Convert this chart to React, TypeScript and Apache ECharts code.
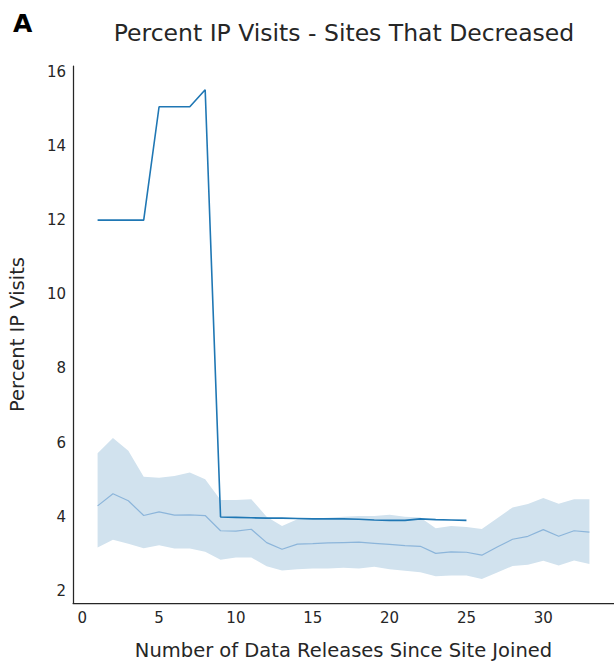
import React, { useEffect, useRef } from "react";
import * as echarts from "echarts";

const titleText = "Percent IP Visits - Sites That Decreased";
const panelLabel = "A";
const xAxisName = "Number of Data Releases Since Site Joined";
const yAxisName = "Percent IP Visits";

const xTicks = [0, 5, 10, 15, 20, 25, 30];
const yTicks = [2, 4, 6, 8, 10, 12, 14, 16];

// Site that decreased (dark line), releases 1..25
const siteX = [1, 2, 3, 4, 5, 6, 7, 8, 9, 10, 11, 12, 13, 14, 15, 16, 17, 18, 19, 20, 21, 22, 23, 24, 25];
const siteY = [12.0, 12.0, 12.0, 12.0, 15.06, 15.06, 15.06, 15.52, 3.99, 3.98, 3.97, 3.96, 3.96, 3.95, 3.94, 3.94, 3.94, 3.93, 3.91, 3.9, 3.9, 3.94, 3.92, 3.91, 3.9];

// Mean and band of all sites, releases 1..33
const bandX = [1, 2, 3, 4, 5, 6, 7, 8, 9, 10, 11, 12, 13, 14, 15, 16, 17, 18, 19, 20, 21, 22, 23, 24, 25, 26, 27, 28, 29, 30, 31, 32, 33];
const meanY = [4.29, 4.62, 4.43, 4.03, 4.13, 4.04, 4.05, 4.03, 3.62, 3.61, 3.66, 3.3, 3.12, 3.26, 3.27, 3.29, 3.3, 3.31, 3.28, 3.25, 3.22, 3.2, 3.01, 3.05, 3.04, 2.96, 3.18, 3.39, 3.47, 3.65, 3.47, 3.62, 3.58];
const upperY = [5.71, 6.12, 5.78, 5.08, 5.05, 5.1, 5.19, 5.01, 4.45, 4.45, 4.47, 4.0, 3.75, 3.93, 3.95, 3.97, 4.0, 4.02, 4.02, 4.05, 4.0, 3.98, 3.69, 3.75, 3.72, 3.67, 3.96, 4.25, 4.34, 4.5, 4.35, 4.47, 4.47];
const lowerY = [3.17, 3.38, 3.27, 3.15, 3.23, 3.14, 3.14, 3.05, 2.84, 2.9, 2.9, 2.66, 2.55, 2.58, 2.6, 2.6, 2.62, 2.6, 2.65, 2.58, 2.54, 2.5, 2.39, 2.41, 2.41, 2.32, 2.49, 2.67, 2.7, 2.81, 2.68, 2.82, 2.72];

const FONT = "DejaVu Sans";
const TXT = "#262626";

export default function App() {
  const ref = useRef<HTMLDivElement>(null);

  useEffect(() => {
    if (!ref.current) return;
    const chart = echarts.init(ref.current, null, { renderer: "svg" });
    const bandData = bandX.map((x, i) => [x, lowerY[i], upperY[i]]);
    chart.setOption({
      animation: false,
      backgroundColor: "#ffffff",
      textStyle: { fontFamily: FONT },
      grid: {
        left: 73,
        top: 66,
        width: 541,
        height: 537,
        containLabel: false,
        outerBoundsMode: "none",
      },
      xAxis: {
        type: "value",
        min: -0.6,
        max: 34.6,
        name: xAxisName,
        nameLocation: "middle",
        nameGap: 37,
        nameTextStyle: { fontFamily: FONT, fontSize: 19.5, color: TXT },
        axisLine: { show: true, onZero: false, lineStyle: { color: TXT, width: 1.25 } },
        axisTick: { show: false },
        splitLine: { show: false },
        axisLabel: {
          customValues: xTicks,
          fontFamily: FONT,
          fontSize: 15,
          color: TXT,
          margin: 7,
        },
      },
      yAxis: {
        type: "value",
        min: 1.67,
        max: 16.16,
        name: yAxisName,
        nameLocation: "middle",
        nameRotate: 90,
        nameGap: 46,
        nameTextStyle: { fontFamily: FONT, fontSize: 19.5, color: TXT },
        axisLine: { show: true, onZero: false, lineStyle: { color: TXT, width: 1.25 } },
        axisTick: { show: false },
        splitLine: { show: false },
        axisLabel: {
          customValues: yTicks,
          fontFamily: FONT,
          fontSize: 15,
          color: TXT,
          margin: 7,
        },
      },
      graphic: [
        {
          type: "text",
          left: 13,
          top: 11,
          style: { text: panelLabel, font: `bold 25px '${FONT}'`, fill: "#000" },
        },
        {
          type: "text",
          x: 344,
          y: 33,
          style: {
            text: titleText,
            font: `23.5px '${FONT}'`,
            fill: TXT,
            textAlign: "center",
            textVerticalAlign: "middle",
          },
        },
      ],
      series: [
        {
          type: "custom",
          data: bandData,
          encode: { x: 0, y: [1, 2] },
          silent: true,
          z: 1,
          renderItem: (params: any, api: any) => {
            if (params.dataIndex !== 0) return null;
            const top = bandData.map((d) => api.coord([d[0], d[2]]));
            const bottom = bandData.map((d) => api.coord([d[0], d[1]])).reverse();
            return {
              type: "polygon",
              shape: { points: top.concat(bottom) },
              style: { fill: "#d1e2ee", stroke: "none" },
            };
          },
        },
        {
          type: "line",
          data: bandX.map((x, i) => [x, meanY[i]]),
          symbol: "none",
          lineStyle: { color: "#8cb5da", width: 1.2 },
          z: 2,
        },
        {
          type: "line",
          data: siteX.map((x, i) => [x, siteY[i]]),
          symbol: "none",
          lineStyle: { color: "#1f77b4", width: 1.6 },
          z: 3,
        },
      ],
    });
    return () => chart.dispose();
  }, []);

  return (
    <div
      ref={ref}
      style={{ position: "fixed", left: 0, top: 0, width: 614, height: 661 }}
    />
  );
}
